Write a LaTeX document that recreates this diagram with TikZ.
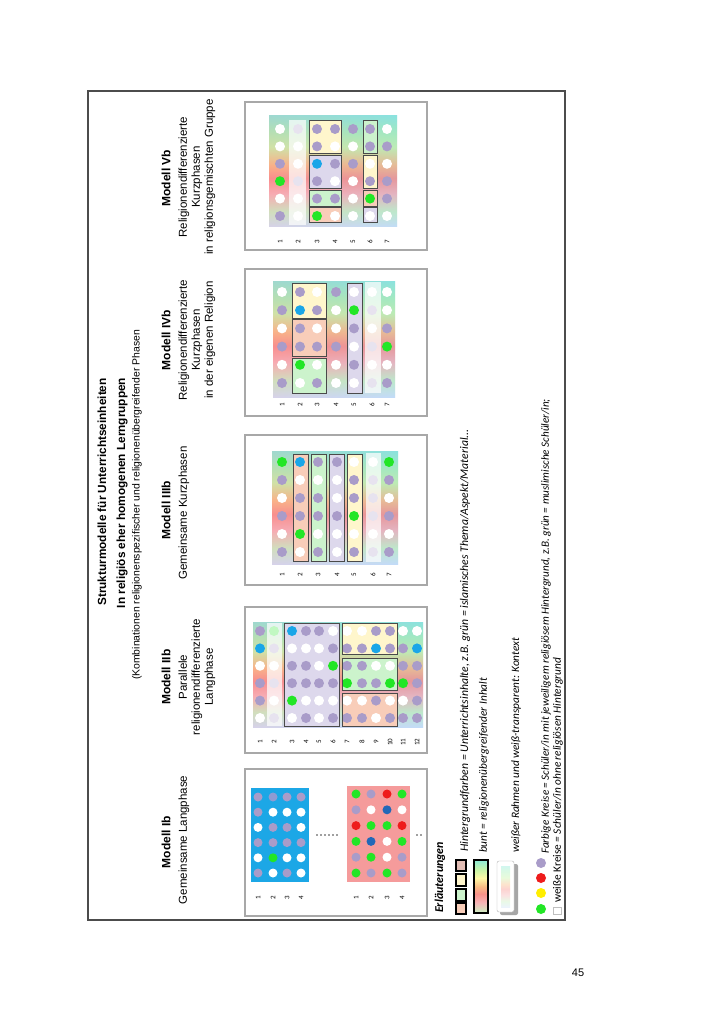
\documentclass[tikz,border=0pt]{standalone}
\usepackage{fontspec}
\setmainfont{Liberation Sans}
\newfontfamily\calfont{Carlito}
\definecolor{cP}{HTML}{A99CC9}
\definecolor{cW}{HTML}{FFFFFF}
\definecolor{cG}{HTML}{22E626}
\definecolor{cB}{HTML}{1AA6E8}
\definecolor{cR}{HTML}{EE1C1C}
\definecolor{cD}{HTML}{2268B8}
\definecolor{cQ}{HTML}{8F9BD2}
\definecolor{cY}{HTML}{FFEE00}
\definecolor{fY}{HTML}{FFF6CC}
\definecolor{fL}{HTML}{DDD8EC}
\definecolor{fG}{HTML}{CCF3CC}
\definecolor{fS}{HTML}{F8CDB9}
\definecolor{pg}{HTML}{A8A8A8}
\definecolor{fd}{HTML}{4A4A4A}
\definecolor{bb}{HTML}{1CA7E6}
\definecolor{pb}{HTML}{F59B9B}
\definecolor{g1}{HTML}{8EEBD8}
\definecolor{g2}{HTML}{A8F2B8}
\definecolor{g3}{HTML}{C8F5A8}
\definecolor{g4}{HTML}{F9BC84}
\definecolor{g5}{HTML}{F8928A}
\definecolor{g6}{HTML}{F7B4B6}
\definecolor{g7}{HTML}{C9F2C2}
\definecolor{g8}{HTML}{CFE3F7}
\definecolor{tL}{HTML}{FF7AA0}
\definecolor{tM}{HTML}{FFE070}
\definecolor{tR}{HTML}{7FB8FF}
\definecolor{sq1}{HTML}{E2BDB5}
\pgfdeclareverticalshading{rainbowv}{100bp}{color(0bp)=(g8); color(25bp)=(g8); color(32bp)=(g7); color(40bp)=(g6); color(47bp)=(g5); color(53bp)=(g4); color(61bp)=(g3); color(68bp)=(g2); color(75bp)=(g1); color(100bp)=(g1)}
\pgfdeclareverticalshading{buntv}{100bp}{color(0bp)=(g7); color(25bp)=(g7); color(35bp)=(g6); color(43bp)=(g5); color(50bp)=(g4); color(58bp)=(cY!35); color(66bp)=(g3); color(75bp)=(g1); color(100bp)=(g1)}
\newcommand{\dcol}[5]{\foreach \cc [count=\ii from 0] in {#5} {\fill[fill=c\cc] ({#1},{#2+\ii*#3}) circle (#4pt);}}
\tikzset{
  panel/.style={draw=pg, line width=1.8pt, fill=white},
  fr/.style={draw=fd, line width=1pt},
  strip/.style={fill=white, fill opacity=0.72},
  rain/.style={shading=rainbowv},
  tint/.style={left color=tL, middle color=tM, right color=tR, opacity=0.16},
  ttl/.style={rotate=90, font=\bfseries\fontsize{11.8}{14}\selectfont, inner sep=0},
  ttlr/.style={rotate=90, font=\fontsize{10.4}{12}\selectfont, inner sep=0},
  mh/.style={rotate=90, font=\bfseries\fontsize{12}{14}\selectfont, inner sep=0, text height=8.6pt, text depth=0pt},
  sub/.style={rotate=90, font=\fontsize{11.5}{13}\selectfont, inner sep=0, text height=8.3pt, text depth=2.4pt},
  lab/.style={rotate=90, font=\calfont\fontsize{7}{8}\selectfont, inner sep=0},
  leg/.style={rotate=90, font=\calfont\itshape\fontsize{11.3}{13}\selectfont, inner sep=0, anchor=west},
}
\begin{document}
\begin{tikzpicture}[x=1pt,y=-1pt]
\useasboundingbox (0,0) rectangle (724,1024);
\fill[white] (0,0) rectangle (724,1024);
\draw[line width=1.2pt, draw=black!70] (88,91) rectangle (565,920);
% titles
\node[ttl] (t1) at (102,492) {Strukturmodelle für Unterrichtseinheiten};
\node[ttl] (t2) at (122,493) {In religiös eher homogenen Lerngruppen};
\node[ttlr] (t3) at (137,505) {(Kombinationen religionenspezifischer und religionenübergreifender Phasen};
% headings
\node[mh] (h5) at (166,178) {Modell Vb};
\node[sub] (h5a) at (184,177) {Religionendifferenzierte};
\node[sub] (h5b) at (197,177) {Kurzphasen};
\node[sub] (h5c) at (210,177) {in religionsgemischten Gruppe};
\node[mh] (h4) at (166,340) {Modell IVb};
\node[sub] (h4a) at (184,340) {Religionendifferenzierte};
\node[sub] (h4b) at (197,340) {Kurzphasen};
\node[sub] (h4c) at (210,340) {in der eigenen Religion};
\node[mh] (h3) at (166,510) {Modell IIIb};
\node[sub] (h3a) at (184,513) {Gemeinsame Kurzphasen};
\node[mh] (h2) at (166,677) {Modell IIb};
\node[sub] (h2a) at (184,677) {Parallele};
\node[sub] (h2b) at (197,677) {religionendifferenzierte};
\node[sub] (h2c) at (210,677) {Langphase};
\node[mh] (h1) at (166,842) {Modell Ib};
\node[sub] (h1a) at (184,840) {Gemeinsame Langphase};
% ---------------- Vb
\draw[panel] (245,102) rectangle (427,250);
\shade[rain] (269,116) rectangle (397,227);
\shade[tint] (269,116) rectangle (397,227);
\fill[fY] (309,121) rectangle (341,154);
\fill[fL] (309,156) rectangle (341,189);
\fill[fG] (309,191) rectangle (341,207);
\fill[fS] (309,208) rectangle (341,223);
\fill[fG] (363,121) rectangle (377,154);
\fill[fY] (363,156) rectangle (377,189);
\fill[fS] (363,191) rectangle (377,207);
\fill[fL] (363,208) rectangle (377,223);
\dcol{280}{129}{17.4}{5}{W,W,P,G,W,P}
\dcol{298}{129}{17.4}{5}{P,W,W,P,W,W}
\dcol{317}{129}{17.4}{5}{P,P,B,P,P,G}
\dcol{335}{129}{17.4}{5}{P,W,P,W,P,W}
\dcol{353}{129}{17.4}{5}{P,W,P,W,W,W}
\dcol{370}{129}{17.4}{5}{P,P,W,P,G,W}
\dcol{387}{129}{17.4}{5}{W,P,W,P,P,W}
\fill[strip] (289,120) rectangle (306,225);
\draw[fr] (309,121) rectangle (341,154);
\draw[fr] (309,156) rectangle (341,189);
\draw[fr] (309,191) rectangle (341,207);
\draw[fr] (309,208) rectangle (341,223);
\draw[fr] (363,121) rectangle (377,154);
\draw[fr] (363,156) rectangle (377,189);
\draw[fr] (363,191) rectangle (377,207);
\draw[fr] (363,208) rectangle (377,223);
\foreach \x [count=\n] in {280,298,317,335,353,370,387} \node[lab] (vl\n) at (\x,242) {\n};
% ---------------- IVb
\draw[panel] (245,269) rectangle (427,416);
\shade[rain] (273,281) rectangle (395,397);
\shade[tint] (273,281) rectangle (395,397);
\fill[fY] (292,283) rectangle (326,318);
\fill[fS] (292,319) rectangle (326,356);
\fill[fG] (292,358) rectangle (326,393);
\fill[fL] (347,283) rectangle (362,393);
\dcol{282}{292}{18.2}{5}{W,P,W,P,W,P}
\dcol{300}{292}{18.2}{5}{P,B,P,P,G,W}
\dcol{317}{292}{18.2}{5}{W,P,W,P,W,P}
\dcol{336}{292}{18.2}{5}{P,W,W,P,W,W}
\dcol{354}{292}{18.2}{5}{W,G,P,W,P,W}
\dcol{372}{292}{18.2}{5}{W,P,W,P,W,P}
\dcol{387}{292}{18.2}{5}{W,W,P,G,W,P}
\fill[strip] (365,282) rectangle (381,393);
\draw[fr] (292,283) rectangle (326,318);
\draw[fr] (292,319) rectangle (326,356);
\draw[fr] (292,358) rectangle (326,393);
\draw[fr] (347,283) rectangle (362,393);
\foreach \x [count=\n] in {282,300,317,336,354,372,387} \node[lab] (ivl\n) at (\x,405) {\n};
% ---------------- IIIb
\draw[panel] (245,435) rectangle (427,585);
\shade[rain] (272,451) rectangle (398,564);
\shade[tint] (272,451) rectangle (398,564);
\fill[fS] (293,454) rectangle (308,561);
\fill[fG] (311,454) rectangle (326,561);
\fill[fL] (329,454) rectangle (344,561);
\fill[fY] (347,454) rectangle (362,561);
\dcol{282}{462}{18}{5}{G,P,W,P,W,P}
\dcol{300}{462}{18}{5}{B,W,P,P,G,W}
\dcol{318}{462}{18}{5}{P,W,P,P,W,P}
\dcol{337}{462}{18}{5}{P,W,W,P,W,W}
\dcol{354}{462}{18}{5}{W,P,P,G,W,P}
\dcol{373}{462}{18}{5}{W,P,P,P,W,P}
\dcol{389}{462}{18}{5}{G,P,W,P,W,P}
\fill[strip] (366,453) rectangle (381,562);
\draw[fr] (293,454) rectangle (308,561);
\draw[fr] (311,454) rectangle (326,561);
\draw[fr] (329,454) rectangle (344,561);
\draw[fr] (347,454) rectangle (362,561);
\foreach \x [count=\n] in {282,300,318,337,354,373,389} \node[lab] (iiil\n) at (\x,575) {\n};
% ---------------- IIb
\draw[panel] (245,607) rectangle (427,753);
\shade[rain] (253,622) rectangle (423,727);
\shade[tint] (253,622) rectangle (423,727);
\fill[fL] (284,623) rectangle (339,726);
\fill[fY] (342,623) rectangle (397,654);
\fill[fG] (342,658) rectangle (397,690);
\fill[fS] (342,693) rectangle (397,726);
\dcol{260}{631}{17.4}{5}{P,B,W,P,P,W}
\dcol{274}{631}{17.4}{5}{G,P,W,P,W,P}
\dcol{292}{631}{17.4}{5}{B,W,P,P,G,W}
\dcol{306}{631}{17.4}{5}{P,W,P,P,W,P}
\dcol{319}{631}{17.4}{5}{P,W,W,P,W,W}
\dcol{333}{631}{17.4}{5}{W,P,G,P,W,P}
\dcol{347}{631}{17.4}{5}{W,P,P,G,W,P}
\dcol{362}{631}{17.4}{5}{W,P,P,P,W,P}
\dcol{376}{631}{17.4}{5}{P,B,W,P,P,W}
\dcol{390}{631}{17.4}{5}{P,P,W,G,W,P}
\dcol{403}{631}{17.4}{5}{W,P,P,G,W,P}
\dcol{417}{631}{17.4}{5}{W,B,P,P,P,P}
\fill[strip] (267,623) rectangle (282,726);
\draw[fr] (284,623) rectangle (339,726);
\draw[fr] (342,623) rectangle (397,654);
\draw[fr] (342,658) rectangle (397,690);
\draw[fr] (342,693) rectangle (397,726);
\foreach \x [count=\n] in {260,274,292,306,319,333,347,362,376,390,403,417} \node[lab] (iil\n) at (\x,742) {\n};
% ---------------- Ib
\draw[panel] (245,769) rectangle (427,916);
\fill[bb] (251,788) rectangle (309,882);
\fill[pb] (347,786) rectangle (410,882);
\dcol{258}{797}{15.2}{4.5}{P,P,W,P,W,P}
\dcol{273}{797}{15.2}{4.5}{Q,W,P,P,G,W}
\dcol{287}{797}{15.2}{4.5}{P,W,P,P,W,P}
\dcol{301}{797}{15.2}{4.5}{P,W,W,P,W,W}
\dcol{356}{794}{15.8}{4.5}{G,P,R,G,P,G}
\dcol{371}{794}{15.8}{4.5}{P,W,G,D,G,P}
\dcol{387}{794}{15.8}{4.5}{R,D,G,W,W,G}
\dcol{402}{794}{15.8}{4.5}{G,W,R,G,P,P}
\foreach \x in {317,321,325,329,333,337} \fill[black!75] (\x,835) circle (0.9pt);
\foreach \x in {417,421} \fill[black!75] (\x,835) circle (0.9pt);
\foreach \x [count=\n] in {258,273,287,301} \node[lab] (ila\n) at (\x,898) {\n};
\foreach \x [count=\n] in {356,371,387,402} \node[lab] (ilb\n) at (\x,898) {\n};
% ---------------- legend
\node[rotate=90, anchor=west, inner sep=0, font=\calfont\bfseries\itshape\fontsize{12}{14}\selectfont] (erl) at (440,913) {Erläuterungen};
\foreach \ya/\yb/\c in {860/871/sq1, 874/886/fY, 889/901/fG, 903/914/fS}
  \filldraw[fill=\c, draw=black, line width=1.6pt] (456,\ya) rectangle (466,\yb);
\node[leg, font=\calfont\itshape\fontsize{11.7}{13}\selectfont] (l1) at (465,852) {Hintergrundfarben = Unterrichtsinhalte, z.B. grün = islamisches Thema/Aspekt/Material...};
\shade[shading=buntv] (474,860) rectangle (488,913);
\draw[black, line width=1.4pt] (474,860) rectangle (488,913);
\node[leg] (l2) at (484,853) {bunt = religionenübergreifender Inhalt};
\fill[black!35, rounded corners=2pt] (500,864) rectangle (518,915);
\filldraw[fill=white, draw=black!30, rounded corners=2pt] (497,861) rectangle (514,912);
\shade[shading=rainbowv, opacity=0.4] (501,866) rectangle (510,907);
\node[leg] (l3) at (516,853) {weißer Rahmen und weiß-transparent: Kontext};
\fill[cP] (541,863) circle (5pt);
\fill[cR] (541,878) circle (5pt);
\fill[cY] (541,893) circle (5pt);
\fill[cG] (541,909) circle (5pt);
\node[leg, font=\calfont\itshape\fontsize{11.1}{13}\selectfont] (l4) at (546,854) {Farbige Kreise = Schüler/in mit jeweiligem religiösem Hintergrund, z.B. grün = muslimische Schüler/in;};
\draw[black!25, fill=white] (553,907) rectangle (561,914);
\node[rotate=90, anchor=west, inner sep=0, font=\calfont\fontsize{11.3}{13}\selectfont] (l5) at (558,903) {weiße Kreise \itshape= Schüler/in ohne religiösen Hintergrund};
% page number
\node[font=\fontsize{11}{13}\selectfont, inner sep=0] (pn) at (578,973) {45};
\end{tikzpicture}
\end{document}
